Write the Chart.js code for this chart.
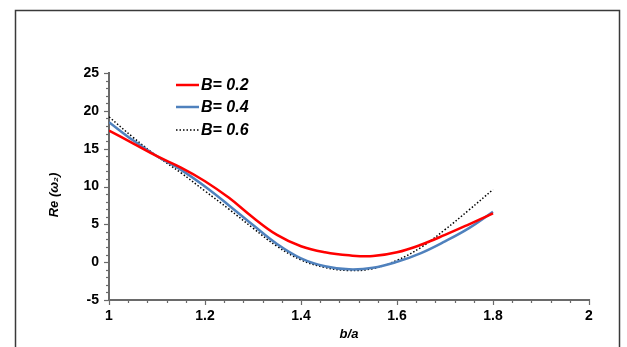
<!DOCTYPE html>
<html>
<head>
<meta charset="utf-8">
<script src="https://cdn.jsdelivr.net/npm/chart.js@4.4.1/dist/chart.umd.min.js"></script>
<style>
html,body{margin:0;padding:0;background:#fff;}
#wrap{position:relative;width:627px;height:347px;}
canvas{display:block;}
</style>
</head>
<body>
<div id="wrap"><canvas id="c" width="627" height="347"></canvas></div>
<script>
// Data
const xValues = [1.00,1.05,1.10,1.15,1.20,1.25,1.30,1.35,1.40,1.45,1.50,1.55,1.60,1.65,1.70,1.75,1.80];
const seriesB02 = [17.4,15.7,14.0,12.5,10.7,8.5,5.9,3.6,2.1,1.3,0.9,0.8,1.3,2.3,3.6,5.0,6.45];
const seriesB04 = [18.5,16.1,14.0,12.2,10.0,7.5,4.9,2.4,0.5,-0.55,-0.95,-0.75,0.05,1.2,2.75,4.5,6.65];
const seriesB06 = [19.2,16.5,14.0,11.8,9.4,7.0,4.5,2.1,0.3,-0.7,-1.1,-0.85,0.25,1.95,4.3,6.9,9.6];
const seriesLabels = ['B= 0.2','B= 0.4','B= 0.6'];
const xTicks = [1,1.2,1.4,1.6,1.8,2];
const yTicks = [-5,0,5,10,15,20,25];
const xTitle = 'b/a';
const yTitle = 'Re (\u03c9\u2082)';

const pts = arr => arr.map((v,i)=>({x:xValues[i], y:v}));
const FONT = '"Liberation Sans", Arial, sans-serif';
const AXIS_COLOR = '#6a6a6a';

const decor = {
  id:'decor',
  beforeDraw(chart){
    const ctx = chart.ctx;
    ctx.save();
    ctx.fillStyle='#fff';
    ctx.fillRect(0,0,chart.width,chart.height);
    ctx.strokeStyle='#3a3a3a';
    ctx.lineWidth=1.5;
    ctx.strokeRect(15.5,10.5,604,360);
    ctx.restore();
  },
  afterDraw(chart){
    const ctx = chart.ctx;
    const xs = chart.scales.x, ys = chart.scales.y;
    const axX = xs.left, axY = ys.bottom;
    ctx.save();
    ctx.strokeStyle = AXIS_COLOR;
    ctx.lineWidth = 1.2;
    for(let v=-5; v<=25; v+=1){
      const p = Math.round(ys.getPixelForValue(v))+0.5;
      const major = (v%5===0);
      ctx.beginPath();
      ctx.moveTo(axX-(major?5:3), p);
      ctx.lineTo(axX+1, p);
      ctx.stroke();
    }
    for(let i=0;i<=25;i++){
      const v = 1 + i*0.04;
      const p = Math.round(xs.getPixelForValue(v))+0.5;
      const major = (i%5===0);
      ctx.beginPath();
      ctx.moveTo(p, axY-1);
      ctx.lineTo(p, axY+(major?5:3));
      ctx.stroke();
    }
    ctx.fillStyle='#000';
    ctx.font = 'italic bold 13px '+FONT;
    ctx.textAlign='center';
    ctx.textBaseline='middle';
    ctx.fillText(xTitle, (xs.left+xs.right)/2, 334);
    ctx.save();
    ctx.translate(54, 195);
    ctx.rotate(-Math.PI/2);
    ctx.fillText(yTitle, 0, 0);
    ctx.restore();
    const ds = chart.data.datasets;
    const ly = [85,107,130];
    ds.forEach((d,i)=>{
      ctx.save();
      ctx.strokeStyle = d.borderColor;
      ctx.lineWidth = d.borderWidth;
      ctx.setLineDash(d.borderDash||[]);
      ctx.beginPath();
      ctx.moveTo(176, ly[i]);
      ctx.lineTo(199, ly[i]);
      ctx.stroke();
      ctx.restore();
      ctx.fillStyle='#000';
      ctx.font = 'italic bold 16px '+FONT;
      ctx.textAlign='left';
      ctx.textBaseline='middle';
      ctx.fillText(d.label, 201, ly[i]+1);
    });
    ctx.restore();
  }
};

new Chart(document.getElementById('c'), {
  type:'line',
  data:{
    datasets:[
      {label:seriesLabels[0], data:pts(seriesB02), borderColor:'#ff0000', borderWidth:2.5, pointRadius:0, tension:0.4, fill:false},
      {label:seriesLabels[1], data:pts(seriesB04), borderColor:'#4f81bd', borderWidth:2.5, pointRadius:0, tension:0.4, fill:false},
      {label:seriesLabels[2], data:pts(seriesB06), borderColor:'#000000', borderWidth:1.5, borderDash:[1.5,2], pointRadius:0, tension:0.4, fill:false}
    ]
  },
  options:{
    responsive:false,
    animation:false,
    devicePixelRatio:1,
    layout:{padding:{left:0,right:38,top:73,bottom:0}},
    plugins:{legend:{display:false},tooltip:{enabled:false},title:{display:false}},
    scales:{
      x:{
        type:'linear', min:1, max:2,
        afterBuildTicks(s){ s.ticks = xTicks.map(v=>({value:v})); },
        afterFit(s){ s.height = 47; },
        grid:{display:true, drawOnChartArea:false, drawTicks:false},
        border:{display:true, color:AXIS_COLOR, width:2},
        ticks:{padding:8, color:'#000', font:{family:FONT, size:14, weight:'bold'}, maxRotation:0,
          callback:v=>String(v)}
      },
      y:{
        type:'linear', min:-5, max:25,
        afterBuildTicks(s){ s.ticks = yTicks.map(v=>({value:v})); },
        afterFit(s){ s.width = 109; },
        grid:{display:true, drawOnChartArea:false, drawTicks:false},
        border:{display:true, color:AXIS_COLOR, width:2},
        ticks:{padding:10, color:'#000', font:{family:FONT, size:14, weight:'bold'}, callback:v=>String(v)}
      }
    }
  },
  plugins:[decor]
});
</script>
</body>
</html>
